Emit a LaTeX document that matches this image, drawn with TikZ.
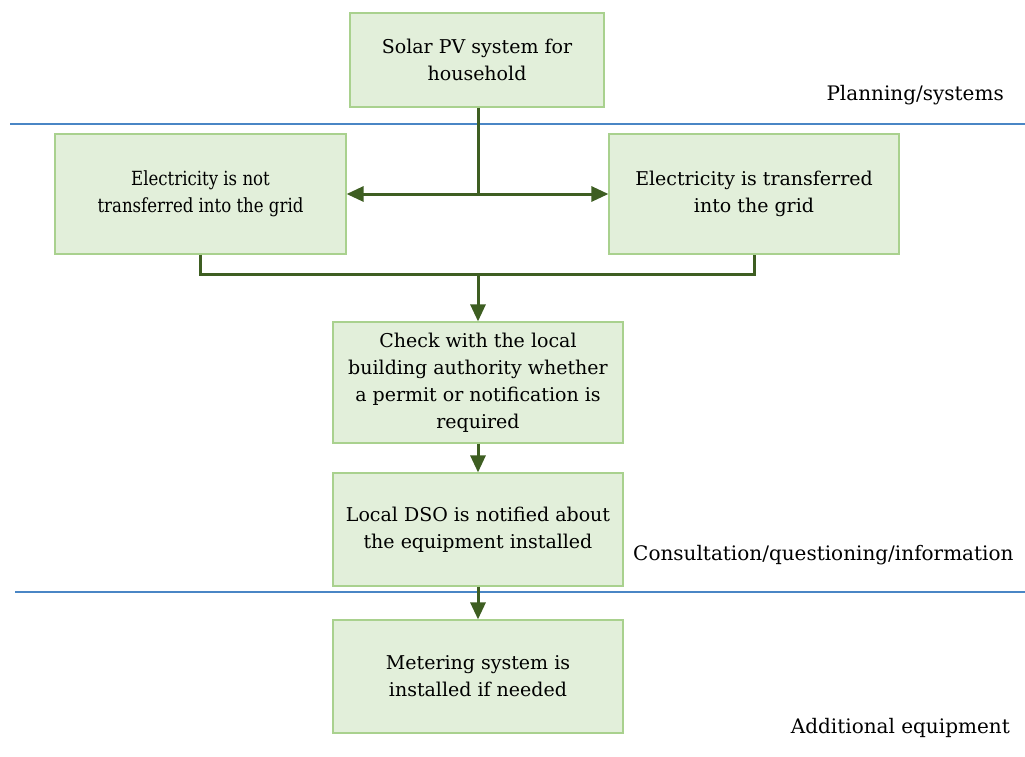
\documentclass[tikz,border=0pt]{standalone}
\usepackage{fontspec}
\setmainfont{DejaVu Serif}
\newfontfamily\narrowserif[FakeStretch=0.85]{DejaVu Serif}
\usetikzlibrary{arrows.meta}
\definecolor{boxfill}{HTML}{E2EFDA}
\definecolor{boxline}{HTML}{A9D18E}
\definecolor{flow}{HTML}{3E5E22}
\definecolor{band}{HTML}{4A86C5}
\tikzset{
  stepbox/.style={draw=boxline, line width=1.2pt, fill=boxfill, align=center,
    font=\fontsize{19}{27}\selectfont, inner sep=0pt},
  flowline/.style={draw=flow, line width=3pt},
  flowarrow/.style={flowline, -{Triangle[length=17pt,width=15pt]}},
  bandline/.style={draw=band, line width=1.8pt},
  bandlabel/.style={font=\fontsize{20}{27}\selectfont, inner sep=0pt}
}
\begin{document}
\begin{tikzpicture}[x=1pt,y=-1pt]
\useasboundingbox (0,0) rectangle (1025,756);

% section dividers
\draw[bandline] (10,124) -- (1025,124);
\draw[bandline] (15,592) -- (1025,592);

% process boxes
\node[stepbox, minimum width=254pt, minimum height=94pt] (pv) at (477,60)
  {Solar PV system for\\household};
\node[stepbox, minimum width=291pt, minimum height=120pt,
      font=\narrowserif\fontsize{19.5}{27}\selectfont] (nogrid) at (200.5,194)
  {Electricity is not\\transferred into the grid};
\node[stepbox, minimum width=290pt, minimum height=120pt] (grid) at (754,194)
  {Electricity is transferred\\into the grid};
\node[stepbox, minimum width=290pt, minimum height=121pt] (check) at (478,382.5)
  {Check with the local\\building authority whether\\a permit or notification is\\required};
\node[stepbox, minimum width=290pt, minimum height=113pt] (dso) at (478,529.5)
  {Local DSO is notified about\\the equipment installed};
\node[stepbox, minimum width=290pt, minimum height=113pt] (meter) at (478,676.5)
  {Metering system is\\installed if needed};

% band labels
\node[bandlabel, anchor=east] (lplan) at (1004,95) {Planning/systems};
\node[bandlabel, anchor=west] (lcons) at (633,555) {Consultation/questioning/information};
\node[bandlabel, anchor=east] (ladd) at (1010,728) {Additional equipment};

% connectors
\coordinate (split) at (478,194);
\coordinate (merge) at (478,274);
\draw[flowline] (pv.south -| split) -- (split);
\draw[flowarrow] (split) -- (nogrid.east);
\draw[flowarrow] (split) -- (grid.west);
\draw[flowline] (nogrid.south) |- (merge) -| (grid.south);
\draw[flowarrow] (merge) -- (check.north);
\draw[flowarrow] (check.south) -- (dso.north);
\draw[flowarrow] (dso.south) -- (meter.north);
\end{tikzpicture}
\end{document}
